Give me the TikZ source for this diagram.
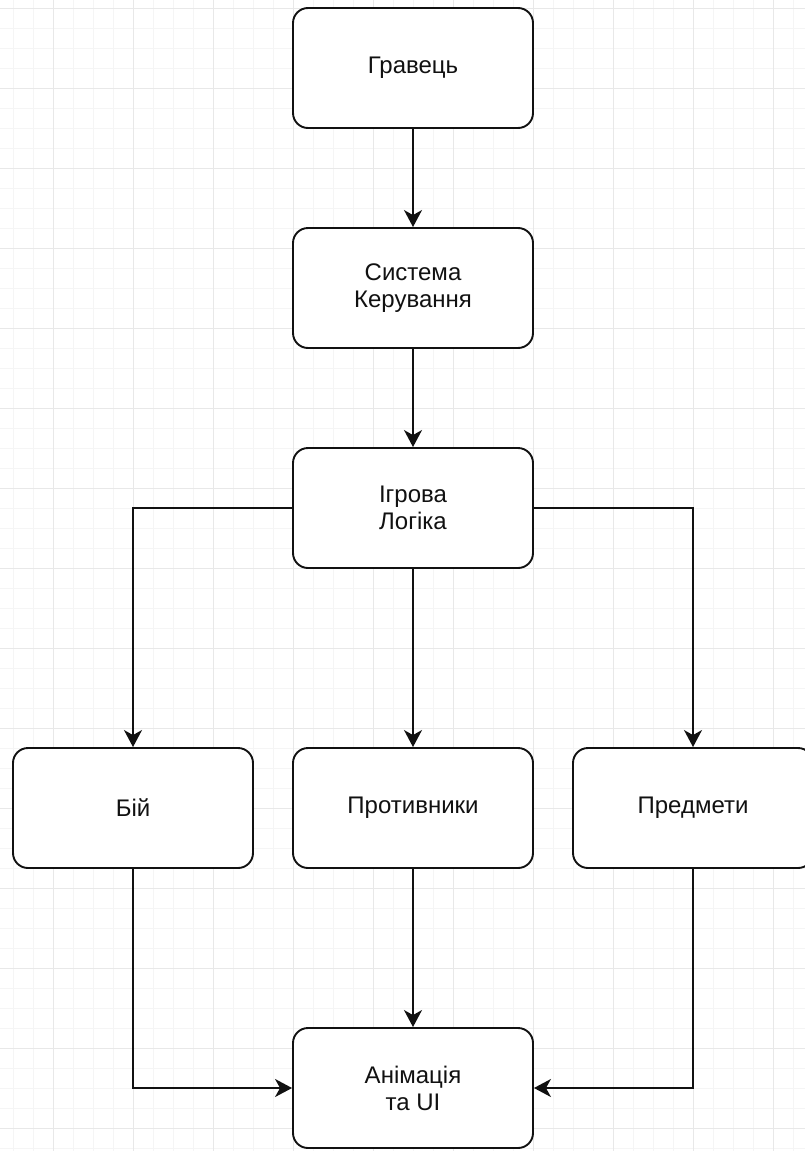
\documentclass[tikz,border=0pt]{standalone}
\usepackage{fontspec}
\setmainfont{Liberation Sans}
\usetikzlibrary{arrows.meta}
\definecolor{gridminor}{HTML}{F5F5F5}
\definecolor{gridmajor}{HTML}{E8E8E8}
\definecolor{ink}{HTML}{111111}
\tikzset{
  block/.style={draw=ink, line width=1.9pt, fill=white, rounded corners=15pt,
    minimum width=240pt, minimum height=120pt, inner sep=0pt, align=center,
    text=ink, font=\fontsize{24}{27}\selectfont},
  link/.style={draw=ink, line width=1.9pt,
    -{Stealth[length=17pt,width=18pt,inset=5pt]}}
}
\begin{document}
\begin{tikzpicture}[x=1pt,y=-1pt]
  \useasboundingbox (0,0) rectangle (805,1151);
  \clip (0,0) rectangle (805,1151);
  \fill[white] (0,0) rectangle (805,1151);
  % background grid: fine lines every 20, heavier every 80
  \foreach \gx in {13,33,...,805} \draw[gridminor, line width=1pt] (\gx,0) -- (\gx,1151);
  \foreach \gy in {8,28,...,1151} \draw[gridminor, line width=1pt] (0,\gy) -- (805,\gy);
  \foreach \gx in {53,133,...,805} \draw[gridmajor, line width=1pt] (\gx,0) -- (\gx,1151);
  \foreach \gy in {8,88,...,1151} \draw[gridmajor, line width=1pt] (0,\gy) -- (805,\gy);

  % blocks
  \node[block] (player)  at (413,68)   {Гравець};
  \node[block] (control) at (413,288)  {Система\\Керування};
  \node[block] (logic)   at (413,508)  {Ігрова\\Логіка};
  \node[block] (combat)  at (133,808)  {Бій};
  \node[block] (enemies) at (413,808)  {Противники};
  \node[block] (items)   at (693,808)  {Предмети};
  \node[block] (anim)    at (413,1088) {Анімація\\та UI};

  % connectors
  \draw[link] (player) -- (control);
  \draw[link] (control) -- (logic);
  \draw[link] (logic.west) -| (combat.north);
  \draw[link] (logic) -- (enemies);
  \draw[link] (logic.east) -| (items.north);
  \draw[link] (combat.south) |- (anim.west);
  \draw[link] (enemies) -- (anim);
  \draw[link] (items.south) |- (anim.east);
\end{tikzpicture}
\end{document}
